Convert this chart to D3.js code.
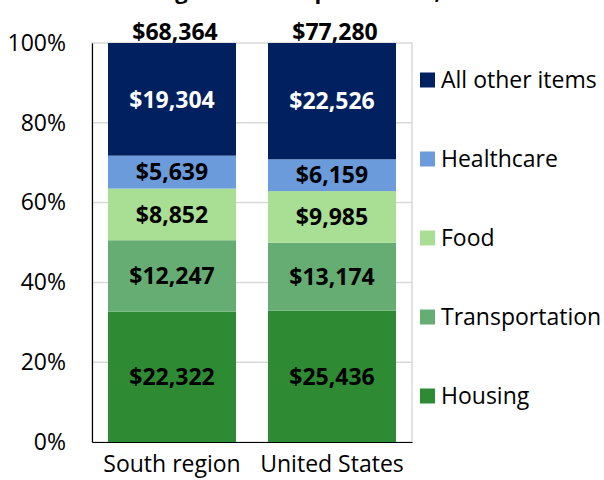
<!DOCTYPE html>
<html>
<head>
<meta charset="utf-8">
<script src="https://cdn.jsdelivr.net/npm/d3@7"></script>
<style>
  body { margin: 0; background: #fff; }
  svg { display: block; font-family: "Open Sans", sans-serif; }
</style>
</head>
<body>
<div id="chart"></div>
<script>
const WIDTH = 604, HEIGHT = 480;
const PLOT_LEFT = 92, PLOT_RIGHT = 412, PLOT_TOP = 43, PLOT_BOT = 442;

// data
const regions = ["South region", "United States"];
const categories = ["Housing", "Transportation", "Food", "Healthcare", "All other items"];
const southValues = [22322, 12247, 8852, 5639, 19304];
const usValues = [25436, 13174, 9985, 6159, 22526];
const yTicks = [0, 0.2, 0.4, 0.6, 0.8, 1];
const colors = ["#2e8b34", "#66ad74", "#a9df95", "#6c9bdc", "#002060"];
const titleText = "Average annual expenditures, 2022";

const valuesByRegion = [southValues, usValues];
const totals = valuesByRegion.map(v => d3.sum(v));

const svg = d3.select("#chart").append("svg")
    .attr("width", WIDTH)
    .attr("height", HEIGHT);

const x = d3.scaleBand()
    .domain(regions)
    .range([PLOT_LEFT, PLOT_RIGHT])
    .paddingInner(0.2)
    .paddingOuter(0.1);

const y = d3.scaleLinear()
    .domain([0, 1])
    .range([PLOT_BOT, PLOT_TOP]);

const color = d3.scaleOrdinal().domain(categories).range(colors);

// title (cut off at the top in the original)
svg.append("text")
    .attr("x", 304)
    .attr("y", -1)
    .attr("text-anchor", "middle")
    .style("font-weight", "bold")
    .style("font-size", "22px")
    .text(titleText);

// plot frame + gridlines
svg.append("rect")
    .attr("x", PLOT_LEFT).attr("y", PLOT_TOP)
    .attr("width", PLOT_RIGHT - PLOT_LEFT).attr("height", PLOT_BOT - PLOT_TOP)
    .attr("fill", "none").attr("stroke", "#d9d9d9").attr("stroke-width", 1.5);

svg.append("g")
    .selectAll("line")
    .data(yTicks.filter(t => t > 0 && t < 1))
    .join("line")
    .attr("x1", PLOT_LEFT).attr("x2", PLOT_RIGHT)
    .attr("y1", d => y(d)).attr("y2", d => y(d))
    .attr("stroke", "#d9d9d9").attr("stroke-width", 1.5);

// stacked (100%) data
const rows = regions.map((r, i) => {
    const row = { region: r };
    categories.forEach((c, j) => row[c] = valuesByRegion[i][j] / totals[i]);
    return row;
});
const series = d3.stack().keys(categories)(rows);

const layers = svg.append("g")
    .selectAll("g")
    .data(series)
    .join("g")
    .attr("fill", d => color(d.key));

layers.selectAll("rect")
    .data(d => d)
    .join("rect")
    .attr("x", d => x(d.data.region))
    .attr("width", x.bandwidth())
    .attr("y", d => y(d[1]))
    .attr("height", d => y(d[0]) - y(d[1]));

const fmt = v => "$" + d3.format(",")(v);

// segment labels
series.forEach((s, ci) => {
    svg.append("g")
        .selectAll("text")
        .data(s)
        .join("text")
        .attr("x", d => x(d.data.region) + x.bandwidth() / 2)
        .attr("y", d => y((d[0] + d[1]) / 2))
        .attr("dy", "0.36em")
        .attr("text-anchor", "middle")
        .style("font-weight", "bold")
        .style("font-size", "23px")
        .attr("fill", ci === categories.length - 1 ? "#fff" : "#000")
        .text((d, i) => fmt(valuesByRegion[i][ci]));
});

// totals above bars
svg.append("g")
    .selectAll("text")
    .data(regions)
    .join("text")
    .attr("x", d => x(d) + x.bandwidth() / 2 + 3)
    .attr("y", PLOT_TOP - 3)
    .attr("text-anchor", "middle")
    .style("font-weight", "bold")
    .style("font-size", "23px")
    .text((d, i) => fmt(totals[i]));

// y axis
const yAxis = svg.append("g")
    .attr("transform", `translate(${PLOT_LEFT},0)`)
    .call(d3.axisLeft(y).tickValues(yTicks).tickFormat(d3.format(".0%")).tickSize(0).tickPadding(26));
yAxis.select(".domain").attr("stroke", "#000").attr("stroke-width", 1.2);
yAxis.selectAll("text").style("font-size", "23px").style("font-family", "Open Sans").attr("fill", "#000");

// x axis
const xAxis = svg.append("g")
    .attr("transform", `translate(0,${PLOT_BOT})`)
    .call(d3.axisBottom(x).tickSize(0).tickPadding(14));
xAxis.select(".domain").attr("stroke", "#000").attr("stroke-width", 1.2);
xAxis.selectAll("text").style("font-size", "23px").style("font-family", "Open Sans").attr("fill", "#000");

// legend (top to bottom: reverse stack order)
const legendItems = categories.slice().reverse();
const legendY = d3.scalePoint().domain(legendItems).range([80, 396]);
const legend = svg.append("g")
    .selectAll("g")
    .data(legendItems)
    .join("g")
    .attr("transform", d => `translate(420,${legendY(d)})`);
legend.append("rect")
    .attr("x", 0).attr("y", -7.5)
    .attr("width", 15).attr("height", 15)
    .attr("fill", d => color(d));
legend.append("text")
    .attr("x", 21)
    .attr("dy", "0.36em")
    .style("font-size", "23px")
    .text(d => d);
</script>
</body>
</html>
